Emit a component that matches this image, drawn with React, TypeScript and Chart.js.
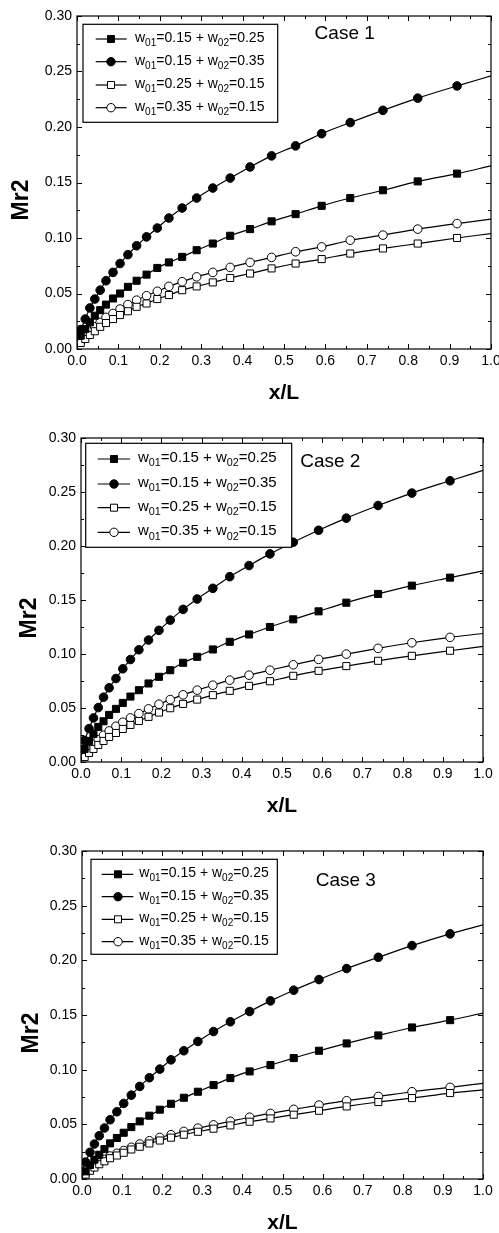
import React, { useEffect, useRef } from 'react';
import { Chart, registerables } from 'chart.js';

Chart.register(...registerables);

// ---------------- DATA ----------------
const xPositions = [
  0, 0.009, 0.02, 0.031, 0.043, 0.056, 0.07, 0.087, 0.104, 0.123, 0.144, 0.168, 0.194,
  0.222, 0.254, 0.289, 0.328, 0.37, 0.418, 0.47, 0.528, 0.591, 0.66, 0.739, 0.823, 0.918, 1.0,
];

const xTickValues = [0, 0.1, 0.2, 0.3, 0.4, 0.5, 0.6, 0.7, 0.8, 0.9, 1.0];
const xTickLabels = ['0.0', '0.1', '0.2', '0.3', '0.4', '0.5', '0.6', '0.7', '0.8', '0.9', '1.0'];
const xMinorValues = [0.05, 0.15, 0.25, 0.35, 0.45, 0.55, 0.65, 0.75, 0.85, 0.95];
const yTickValues = [0, 0.05, 0.1, 0.15, 0.2, 0.25, 0.3];
const yTickLabels = ['0.00', '0.05', '0.10', '0.15', '0.20', '0.25', '0.30'];
const yMinorValues = [0.025, 0.075, 0.125, 0.175, 0.225, 0.275];

const legendW01 = ['0.15', '0.15', '0.25', '0.35'];
const legendW02 = ['0.25', '0.35', '0.15', '0.15'];
const caseLabels = ['Case 1', 'Case 2', 'Case 3'];
const xTitle = 'x/L';
const yTitle = 'Mr2';

// Case 1
const case1S1 = [0.007, 0.012, 0.018, 0.024, 0.03, 0.035, 0.04, 0.0455, 0.05, 0.056, 0.0615, 0.067, 0.073, 0.078, 0.083, 0.089, 0.095, 0.102, 0.108, 0.115, 0.1215, 0.129, 0.136, 0.143, 0.151, 0.158, 0.165];
const case1S2 = [0.01, 0.0175, 0.027, 0.037, 0.045, 0.053, 0.0615, 0.069, 0.077, 0.085, 0.093, 0.101, 0.109, 0.118, 0.127, 0.136, 0.145, 0.154, 0.164, 0.174, 0.183, 0.194, 0.204, 0.215, 0.226, 0.237, 0.246];
const case1S3 = [0.0027, 0.0054, 0.009, 0.0126, 0.016, 0.02, 0.0234, 0.027, 0.0306, 0.034, 0.038, 0.041, 0.045, 0.0486, 0.053, 0.0564, 0.06, 0.064, 0.068, 0.0726, 0.077, 0.081, 0.086, 0.0906, 0.095, 0.1, 0.104];
const case1S4 = [0.003, 0.007, 0.012, 0.016, 0.02, 0.024, 0.0285, 0.032, 0.036, 0.04, 0.044, 0.048, 0.052, 0.0564, 0.0606, 0.065, 0.069, 0.0735, 0.078, 0.0825, 0.0876, 0.092, 0.098, 0.1026, 0.108, 0.113, 0.117];

// Case 2
const case2S1 = [0.006, 0.012, 0.0195, 0.026, 0.0325, 0.0377, 0.0436, 0.0492, 0.0547, 0.0606, 0.0665, 0.0727, 0.0789, 0.085, 0.0919, 0.0974, 0.1042, 0.1113, 0.1181, 0.125, 0.1321, 0.1395, 0.1475, 0.1556, 0.1633, 0.1707, 0.177];
const case2S2 = [0.011, 0.02, 0.0309, 0.0408, 0.0504, 0.06, 0.0687, 0.0773, 0.0863, 0.0949, 0.1039, 0.1129, 0.1219, 0.1314, 0.1413, 0.1509, 0.1608, 0.1716, 0.1819, 0.1927, 0.2035, 0.2146, 0.2258, 0.2375, 0.249, 0.2604, 0.27];
const case2S3 = [0.0015, 0.0046, 0.0084, 0.0121, 0.0158, 0.0195, 0.0232, 0.0269, 0.0306, 0.0343, 0.038, 0.0418, 0.0458, 0.0498, 0.0538, 0.0578, 0.0619, 0.0659, 0.0705, 0.0748, 0.0798, 0.0844, 0.0888, 0.0937, 0.0983, 0.103, 0.107];
const case2S4 = [0.003, 0.0071, 0.0118, 0.0164, 0.0207, 0.0247, 0.0288, 0.0331, 0.0368, 0.0408, 0.0448, 0.0492, 0.0535, 0.0578, 0.0622, 0.0665, 0.0711, 0.0758, 0.0804, 0.085, 0.09, 0.095, 0.0999, 0.1052, 0.1104, 0.1154, 0.119];

// Case 3
const case3S1 = [0.0023, 0.007, 0.0128, 0.0177, 0.0222, 0.0274, 0.0326, 0.0375, 0.0423, 0.0475, 0.0527, 0.0579, 0.0634, 0.0688, 0.0743, 0.0798, 0.0859, 0.0923, 0.0984, 0.1042, 0.1106, 0.1173, 0.124, 0.1313, 0.1386, 0.1453, 0.1517];
const case3S2 = [0.008, 0.0155, 0.0244, 0.032, 0.0396, 0.0466, 0.0542, 0.0615, 0.0691, 0.0767, 0.0847, 0.0926, 0.1005, 0.109, 0.1173, 0.1258, 0.1349, 0.1438, 0.1532, 0.1629, 0.1727, 0.1824, 0.1925, 0.2028, 0.2135, 0.2242, 0.2324];
const case3S3 = [0.001, 0.004, 0.0075, 0.0105, 0.0135, 0.0162, 0.019, 0.0215, 0.024, 0.027, 0.0295, 0.0325, 0.0352, 0.0378, 0.0405, 0.0432, 0.046, 0.049, 0.0524, 0.0554, 0.0588, 0.0624, 0.0664, 0.0704, 0.074, 0.0786, 0.0816];
const case3S4 = [0.0015, 0.005, 0.0085, 0.012, 0.015, 0.018, 0.021, 0.0235, 0.026, 0.029, 0.032, 0.035, 0.038, 0.0405, 0.0435, 0.0465, 0.0495, 0.0528, 0.0565, 0.06, 0.0637, 0.0676, 0.0716, 0.0755, 0.0798, 0.0838, 0.0875];

const caseSeries = [
  [case1S1, case1S2, case1S3, case1S4],
  [case2S1, case2S2, case2S3, case2S4],
  [case3S1, case3S2, case3S3, case3S4],
];

// ---------------- STYLES / LAYOUT ----------------
const markerStyles = ['rect', 'circle', 'rect', 'circle'];
const markerFilled = [true, true, false, false];
const FONT = 'Arial, "Liberation Sans", Helvetica, sans-serif';

type Layout = {
  top: number;
  height: number;
  padTop: number;
  padRight: number;
  yWidth: number;
  xHeight: number;
  xTitlePad: number;
  yTitle: [number, number];
  casePos: [number, number];
  legendBox: [number, number, number, number];
  legendRows: number[];
  legendLine: [number, number];
  legendMarker: number;
  legendTextX: number;
  legendFont: number;
};

const layouts: Layout[] = [
  {
    top: 0, height: 410, padTop: 16, padRight: 8, yWidth: 77, xHeight: 61, xTitlePad: 4.4,
    yTitle: [22, 200], casePos: [344.7, 33.3],
    legendBox: [83, 24.3, 277.7, 122.3], legendRows: [39, 61.7, 85, 107.7],
    legendLine: [95.7, 126.7], legendMarker: 111, legendTextX: 135, legendFont: 14,
  },
  {
    top: 415, height: 410, padTop: 23, padRight: 16, yWidth: 81, xHeight: 63, xTitlePad: 5.7,
    yTitle: [30, 203], casePos: [330.3, 47],
    legendBox: [85.7, 28.3, 291.7, 132.3], legendRows: [44, 69, 92.7, 117.3],
    legendLine: [97.7, 130], legendMarker: 114, legendTextX: 138, legendFont: 15,
  },
  {
    top: 825, height: 415, padTop: 26, padRight: 16, yWidth: 82, xHeight: 61, xTitlePad: 4.4,
    yTitle: [31.7, 208], casePos: [345.8, 55.8],
    legendBox: [91, 34.3, 277.3, 129.3], legendRows: [49.3, 71.7, 94.3, 116.7],
    legendLine: [101.7, 133.3], legendMarker: 118, legendTextX: 139.3, legendFont: 14,
  },
];

function drawMarker(ctx: CanvasRenderingContext2D, style: string, filled: boolean, x: number, y: number) {
  ctx.beginPath();
  if (style === 'rect') {
    const s = 3.5;
    ctx.rect(x - s, y - s, 2 * s, 2 * s);
  } else {
    ctx.arc(x, y, 4.2, 0, Math.PI * 2);
  }
  ctx.fillStyle = filled ? '#000' : '#fff';
  ctx.fill();
  ctx.lineWidth = 1;
  ctx.strokeStyle = '#000';
  ctx.stroke();
}

function drawRich(ctx: CanvasRenderingContext2D, x: number, y: number, parts: { t: string; sub?: boolean }[], size: number) {
  let cx = x;
  ctx.textBaseline = 'middle';
  ctx.textAlign = 'left';
  ctx.fillStyle = '#000';
  for (const p of parts) {
    const fs = p.sub ? size * 0.72 : size;
    ctx.font = `${fs}px ${FONT}`;
    ctx.fillText(p.t, cx, y + (p.sub ? size * 0.36 : 0));
    cx += ctx.measureText(p.t).width;
  }
}

const decorPlugin = {
  id: 'decor',
  afterDraw(chart: any, _args: any, opts: any) {
    const L: Layout = opts.layout;
    const caseIdx: number = opts.caseIdx;
    const { ctx, chartArea: a, scales } = chart;
    const xs = scales.x;
    const ys = scales.y;
    ctx.save();
    // frame
    ctx.strokeStyle = '#000';
    ctx.lineWidth = 1.2;
    ctx.strokeRect(a.left, a.top, a.right - a.left, a.bottom - a.top);
    // inward ticks on all sides
    ctx.lineWidth = 1;
    ctx.beginPath();
    const xt = (vals: number[], len: number) => {
      for (const v of vals) {
        const p = Math.round(xs.getPixelForValue(v)) + 0.5;
        ctx.moveTo(p, a.bottom); ctx.lineTo(p, a.bottom - len);
        ctx.moveTo(p, a.top); ctx.lineTo(p, a.top + len);
      }
    };
    const yt = (vals: number[], len: number) => {
      for (const v of vals) {
        const p = Math.round(ys.getPixelForValue(v)) + 0.5;
        ctx.moveTo(a.left, p); ctx.lineTo(a.left + len, p);
        ctx.moveTo(a.right, p); ctx.lineTo(a.right - len, p);
      }
    };
    xt(xTickValues, 5); xt(xMinorValues, 3);
    yt(yTickValues, 5); yt(yMinorValues, 3);
    ctx.stroke();

    // y title
    ctx.save();
    ctx.translate(L.yTitle[0], L.yTitle[1]);
    ctx.rotate(-Math.PI / 2);
    ctx.font = `bold 23px ${FONT}`;
    ctx.fillStyle = '#000';
    ctx.textAlign = 'center';
    ctx.textBaseline = 'middle';
    ctx.fillText(yTitle, 0, 0);
    ctx.restore();

    // case label
    ctx.font = `19px ${FONT}`;
    ctx.fillStyle = '#000';
    ctx.textAlign = 'center';
    ctx.textBaseline = 'middle';
    ctx.fillText(caseLabels[caseIdx], L.casePos[0], L.casePos[1]);

    // legend
    const [bx0, by0, bx1, by1] = L.legendBox;
    ctx.fillStyle = '#fff';
    ctx.fillRect(bx0, by0, bx1 - bx0, by1 - by0);
    ctx.strokeStyle = '#000';
    ctx.lineWidth = 1.2;
    ctx.strokeRect(bx0, by0, bx1 - bx0, by1 - by0);
    for (let i = 0; i < 4; i++) {
      const ry = L.legendRows[i];
      ctx.beginPath();
      ctx.moveTo(L.legendLine[0], ry);
      ctx.lineTo(L.legendLine[1], ry);
      ctx.lineWidth = 1.2;
      ctx.strokeStyle = '#000';
      ctx.stroke();
      drawMarker(ctx, markerStyles[i], markerFilled[i], L.legendMarker, ry);
      drawRich(ctx, L.legendTextX, ry - 1, [
        { t: 'w' }, { t: '01', sub: true }, { t: `=${legendW01[i]} + w` }, { t: '02', sub: true }, { t: `=${legendW02[i]}` },
      ], L.legendFont);
    }
    ctx.restore();
  },
};

function CaseChart({ idx }: { idx: number }) {
  const ref = useRef<HTMLCanvasElement>(null);
  const L = layouts[idx];
  useEffect(() => {
    if (!ref.current) return;
    const series = caseSeries[idx];
    const n = xPositions.length;
    const chart = new Chart(ref.current, {
      type: 'scatter',
      data: {
        datasets: series.map((vals, k) => ({
          label: `s${k}`,
          data: xPositions.map((x, i) => ({ x, y: vals[i] })),
          showLine: true,
          borderColor: '#000',
          borderWidth: 1.2,
          cubicInterpolationMode: 'monotone' as const,
          pointStyle: markerStyles[k] as any,
          pointRadius: (c: any) => (c.dataIndex === 0 || c.dataIndex === n - 1 ? 0 : markerStyles[k] === 'rect' ? 5 : 4.3),
          pointBackgroundColor: markerFilled[k] ? '#000' : '#fff',
          pointBorderColor: '#000',
          pointBorderWidth: 1,
        })),
      },
      options: {
        animation: false,
        responsive: false,
        events: [],
        layout: { padding: { top: L.padTop, right: L.padRight, bottom: 0, left: 0 } },
        plugins: {
          legend: { display: false },
          tooltip: { enabled: false },
          decor: { layout: L, caseIdx: idx },
        } as any,
        scales: {
          x: {
            type: 'linear',
            min: 0,
            max: 1,
            afterBuildTicks: (s: any) => { s.ticks = xTickValues.map((v) => ({ value: v })); },
            afterFit: (s: any) => { s.height = L.xHeight; s.paddingRight = 0; s.paddingLeft = 0; },
            grid: { display: false, drawTicks: false },
            border: { display: false },
            ticks: {
              padding: 4,
              color: '#000',
              font: { family: FONT, size: 14 },
              maxRotation: 0,
              autoSkip: false,
              callback: (_v: any, i: number) => xTickLabels[i],
            },
            title: {
              display: true,
              text: xTitle,
              color: '#000',
              font: { family: FONT, size: 21, weight: 'bold' },
              padding: { top: 0, bottom: L.xTitlePad },
            },
          },
          y: {
            type: 'linear',
            min: 0,
            max: 0.3,
            afterBuildTicks: (s: any) => { s.ticks = yTickValues.map((v) => ({ value: v })); },
            afterFit: (s: any) => { s.width = L.yWidth; },
            grid: { display: false, drawTicks: false },
            border: { display: false },
            ticks: {
              padding: 5,
              color: '#000',
              font: { family: FONT, size: 14 },
              autoSkip: false,
              callback: (_v: any, i: number) => yTickLabels[i],
            },
          },
        },
      },
      plugins: [decorPlugin as any],
    });
    return () => chart.destroy();
  }, [idx]);
  return (
    <canvas
      ref={ref}
      width={499}
      height={L.height}
      style={{ position: 'absolute', left: 0, top: L.top, width: 499, height: L.height }}
    />
  );
}

export default function App() {
  return (
    <div style={{ position: 'absolute', left: 0, top: 0, width: 499, height: 1233, overflow: 'hidden', background: '#fff' }}>
      <CaseChart idx={0} />
      <CaseChart idx={1} />
      <CaseChart idx={2} />
    </div>
  );
}
